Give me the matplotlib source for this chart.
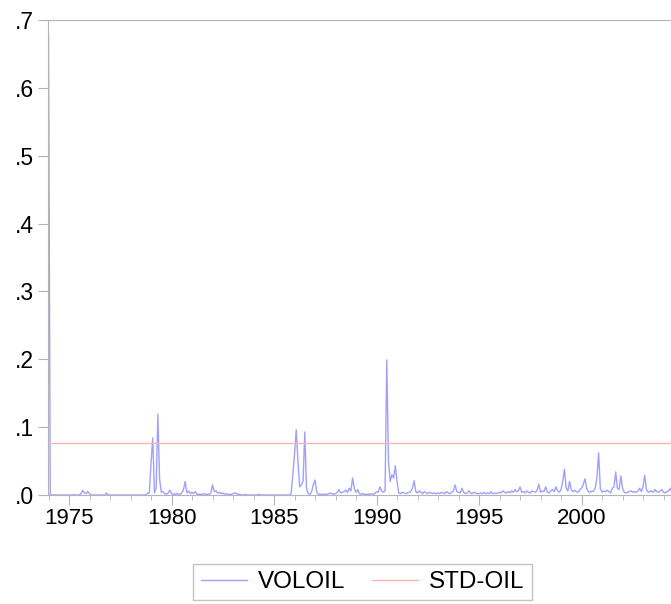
import numpy as np
import matplotlib
matplotlib.use("Agg")
import matplotlib.pyplot as plt

plt.rcParams["font.family"] = ["Liberation Sans", "DejaVu Sans"]

# monthly values, 1974:01 onwards
years = list(range(1974, 2005))
voloil = {
    1974: [0.680, 0.001, 0, 0, 0, 0, 0, 0, 0, 0, 0, 0],
    1975: [0, 0, 0, 0, 0, 0, 0, 0.002, 0.007, 0.003, 0.002, 0.005],
    1976: [0.002, 0, 0, 0, 0, 0, 0, 0, 0, 0, 0.003, 0],
    1977: [0, 0, 0, 0, 0, 0, 0, 0, 0, 0, 0, 0],
    1978: [0, 0, 0, 0, 0, 0, 0, 0, 0, 0, 0.003, 0.003],
    1979: [0.047, 0.084, 0.003, 0.010, 0.119, 0.024, 0.004, 0.005, 0.002, 0.001, 0.003, 0.007],
    1980: [0.002, 0.001, 0.001, 0.002, 0.001, 0.001, 0.003, 0.008, 0.020, 0.003, 0.006, 0.002],
    1981: [0.004, 0.002, 0.005, 0.001, 0.001, 0.001, 0.001, 0.002, 0.001, 0.001, 0.001, 0.003],
    1982: [0.015, 0.005, 0.006, 0.003, 0.004, 0.002, 0.003, 0.001, 0.002, 0.001, 0.001, 0.001],
    1983: [0.002, 0.003, 0.002, 0.001, 0.001, 0, 0, 0.001, 0, 0, 0, 0],
    1984: [0, 0, 0, 0.001, 0, 0, 0, 0, 0, 0, 0, 0],
    1985: [0, 0, 0, 0, 0, 0, 0, 0, 0, 0, 0.002, 0.030],
    1986: [0.060, 0.096, 0.050, 0.012, 0.015, 0.020, 0.093, 0.010, 0.002, 0.001, 0.005, 0.015],
    1987: [0.022, 0.004, 0.001, 0.001, 0.001, 0.001, 0.001, 0.001, 0.002, 0.003, 0.002, 0.001],
    1988: [0.002, 0.004, 0.008, 0.003, 0.004, 0.005, 0.007, 0.004, 0.010, 0.006, 0.025, 0.010],
    1989: [0.004, 0.008, 0.002, 0.001, 0.002, 0.001, 0.001, 0.001, 0.001, 0.002, 0.001, 0.002],
    1990: [0.005, 0.004, 0.012, 0.006, 0.004, 0.006, 0.199, 0.050, 0.020, 0.030, 0.025, 0.043],
    1991: [0.020, 0.003, 0.002, 0.004, 0.003, 0.002, 0.003, 0.004, 0.005, 0.010, 0.021, 0.005],
    1992: [0.003, 0.006, 0.004, 0.002, 0.005, 0.003, 0.002, 0.004, 0.003, 0.002, 0.003, 0.002],
    1993: [0.003, 0.002, 0.004, 0.003, 0.002, 0.005, 0.003, 0.002, 0.004, 0.006, 0.015, 0.005],
    1994: [0.004, 0.003, 0.010, 0.004, 0.002, 0.003, 0.006, 0.003, 0.002, 0.004, 0.003, 0.002],
    1995: [0.002, 0.003, 0.002, 0.004, 0.002, 0.003, 0.002, 0.005, 0.002, 0.003, 0.002, 0.003],
    1996: [0.004, 0.003, 0.006, 0.004, 0.003, 0.005, 0.003, 0.006, 0.004, 0.008, 0.005, 0.006],
    1997: [0.012, 0.004, 0.005, 0.003, 0.006, 0.004, 0.003, 0.006, 0.005, 0.004, 0.007, 0.016],
    1998: [0.004, 0.006, 0.005, 0.012, 0.004, 0.003, 0.006, 0.008, 0.005, 0.012, 0.006, 0.004],
    1999: [0.008, 0.020, 0.038, 0.010, 0.006, 0.020, 0.008, 0.005, 0.007, 0.005, 0.004, 0.008],
    2000: [0.010, 0.015, 0.024, 0.010, 0.005, 0.004, 0.006, 0.005, 0.010, 0.025, 0.062, 0.010],
    2001: [0.004, 0.006, 0.005, 0.007, 0.005, 0.003, 0.010, 0.012, 0.034, 0.010, 0.008, 0.028],
    2002: [0.010, 0.004, 0.003, 0.004, 0.005, 0.006, 0.004, 0.005, 0.004, 0.006, 0.010, 0.005],
    2003: [0.012, 0.029, 0.008, 0.004, 0.005, 0.006, 0.004, 0.008, 0.005, 0.004, 0.006, 0.008],
    2004: [0.004, 0.003, 0.005, 0.006, 0.010, 0.003, 0.004, 0.006, 0.005, 0.004, 0.006, 0.005],
}
std_oil = 0.077

x_major = [1975, 1980, 1985, 1990, 1995, 2000]
y_ticks = [0.0, 0.1, 0.2, 0.3, 0.4, 0.5, 0.6, 0.7]
y_labels = [".0", ".1", ".2", ".3", ".4", ".5", ".6", ".7"]

vals = np.concatenate([voloil[y] for y in years])
t = years[0] + np.arange(len(vals)) / 12.0

fig = plt.figure(figsize=(6.71, 6.04), dpi=100)
ax = fig.add_axes([47.5 / 671, 109 / 604, 1 - 47.5 / 671, 475 / 604])

ax.plot(t, vals, color="#a0a0ff", lw=1.0, label="VOLOIL")
ax.plot(t, np.full_like(t, std_oil), color="#ffb4b4", lw=1.0, label="STD-OIL")

xmin = 1973.95
ax.set_xlim(xmin, xmin + (671 - 47.5) / 20.5)
ax.set_ylim(0, 0.7)

grey = "#b4b4b4"
for s in ["left", "bottom", "top"]:
    ax.spines[s].set_color(grey)
ax.spines["right"].set_visible(False)

ax.set_xticks(x_major)
ax.set_xticklabels([str(v) for v in x_major])
ax.set_xticks(range(1974, 2005), minor=True)
ax.set_yticks(y_ticks)
ax.set_yticklabels(y_labels)
ax.tick_params(axis="x", which="major", length=7, color=grey, labelsize=16, pad=2.5)
ax.tick_params(axis="x", which="minor", length=3.5, color=grey)
ax.tick_params(axis="y", length=7, color=grey, labelsize=16.5, pad=3)

leg = fig.legend(loc="center", bbox_to_anchor=(362.7 / 671, 22 / 604), ncol=2,
                 fontsize=17.5, frameon=True, fancybox=False, handlelength=1.9,
                 handletextpad=0.45, columnspacing=1.1, borderpad=0.3)
leg.get_frame().set_edgecolor(grey)
leg.get_frame().set_linewidth(1.0)

fig.savefig("out.png", dpi=100)
